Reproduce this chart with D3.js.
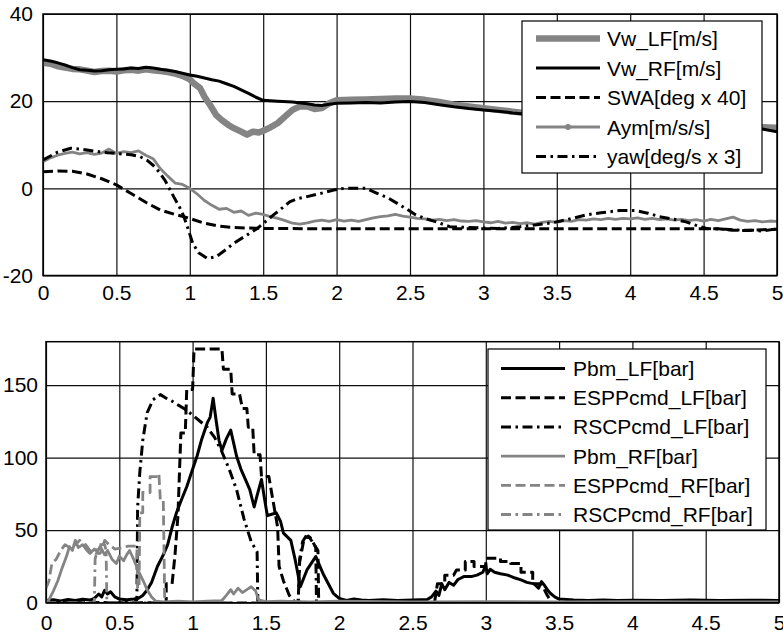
<!DOCTYPE html>
<html>
<head>
<meta charset="utf-8">
<script src="https://cdn.jsdelivr.net/npm/d3@7"></script>
<style>
  body { margin: 0; background: #fff; }
  svg { display: block; }
  .tick text { font-family: "Liberation Sans", Arial, Helvetica, sans-serif; font-size: 21px; fill: #000; }
  .legend text { font-family: "Liberation Sans", Arial, Helvetica, sans-serif; font-size: 21px; fill: #000; }
</style>
</head>
<body>
<script>
//x ticks shared by both panels
var xTicks = [0, 0.5, 1, 1.5, 2, 2.5, 3, 3.5, 4, 4.5, 5];
var topYTicks = [-20, 0, 20, 40];
var botYTicks = [0, 50, 100, 150];

//top panel series, [time s, value]
var vwLF = [[0,28.8],[0.05,28.6],[0.1,28.0],[0.15,27.7],[0.2,27.4],[0.25,27.3],[0.3,27.0],[0.35,26.7],[0.4,26.9],[0.45,27.0],[0.5,26.8],[0.55,27.1],[0.6,27.2],[0.65,27.0],[0.7,27.3],[0.75,27.1],[0.8,26.9],[0.85,26.7],[0.9,26.3],[0.95,25.8],[1.0,25.0],[1.03,24.0],[1.07,23.0],[1.1,21.0],[1.14,19.0],[1.18,16.8],[1.22,15.6],[1.26,14.6],[1.3,13.8],[1.35,13.0],[1.39,12.3],[1.43,13.0],[1.47,12.8],[1.5,13.2],[1.55,14.0],[1.6,15.0],[1.65,16.5],[1.7,18.0],[1.75,18.8],[1.8,18.8],[1.85,18.2],[1.9,18.4],[1.95,19.5],[2.0,20.2],[2.1,20.3],[2.2,20.4],[2.3,20.5],[2.4,20.6],[2.5,20.6],[2.6,20.3],[2.7,19.8],[2.8,19.2],[2.9,18.8],[3.0,18.4],[3.1,18.0],[3.2,17.6],[3.3,17.2],[3.4,16.9],[3.5,16.7],[4.0,15.5],[4.5,14.6],[4.9,14.0],[5.0,13.9]];

var vwRF = [[0,29.5],[0.05,29.2],[0.1,28.8],[0.15,28.3],[0.2,27.7],[0.25,27.2],[0.3,27.1],[0.35,26.9],[0.4,27.0],[0.45,27.2],[0.5,27.3],[0.55,27.4],[0.6,27.6],[0.65,27.5],[0.7,27.8],[0.75,27.6],[0.8,27.3],[0.85,27.1],[0.9,26.8],[0.95,26.4],[1.0,26.0],[1.05,25.7],[1.1,25.3],[1.15,24.9],[1.2,24.6],[1.25,24.0],[1.3,23.4],[1.35,22.6],[1.4,21.8],[1.45,20.9],[1.5,20.2],[1.6,20.0],[1.7,19.8],[1.8,19.4],[1.85,19.1],[1.9,19.0],[1.95,19.3],[2.0,19.5],[2.1,19.6],[2.2,19.7],[2.3,19.6],[2.4,19.8],[2.5,19.9],[2.6,19.7],[2.7,19.2],[2.8,18.7],[2.9,18.3],[3.0,18.0],[3.1,17.7],[3.2,17.3],[3.3,17.0],[3.4,16.8],[3.5,16.6],[3.75,15.9],[4.0,15.4],[4.25,14.9],[4.5,14.5],[4.75,14.0],[4.9,13.6],[5.0,13.0]];

var swa = [[0,3.8],[0.1,4.0],[0.2,3.9],[0.3,3.3],[0.4,2.2],[0.5,0.8],[0.6,-1.2],[0.7,-3.2],[0.8,-5.0],[0.9,-6.0],[1.0,-6.9],[1.1,-8.0],[1.2,-8.7],[1.3,-9.0],[1.5,-9.2],[2.0,-9.3],[3.0,-9.3],[4.0,-9.3],[4.6,-9.3],[4.7,-9.6],[4.8,-9.7],[4.9,-9.5],[5.0,-9.4]];

var aym = [[0,6.1],[0.05,7.0],[0.1,7.6],[0.15,8.0],[0.2,8.3],[0.25,7.9],[0.3,8.2],[0.35,7.8],[0.4,8.1],[0.45,9.0],[0.5,8.0],[0.55,8.4],[0.6,8.2],[0.65,8.6],[0.7,7.6],[0.75,6.8],[0.8,4.5],[0.85,2.8],[0.9,1.2],[0.95,0.9],[1.0,0.0],[1.05,-1.3],[1.1,-2.8],[1.15,-3.9],[1.2,-4.8],[1.25,-4.6],[1.3,-5.5],[1.35,-5.2],[1.4,-6.2],[1.45,-5.7],[1.5,-6.0],[1.55,-6.5],[1.6,-6.9],[1.65,-7.4],[1.7,-8.0],[1.75,-8.2],[1.8,-7.9],[1.85,-7.5],[1.9,-7.3],[1.95,-7.6],[2.0,-7.2],[2.05,-7.5],[2.1,-7.3],[2.15,-7.6],[2.2,-7.2],[2.25,-6.8],[2.3,-6.5],[2.35,-6.3],[2.4,-6.0],[2.45,-6.4],[2.5,-6.6],[2.55,-6.9],[2.6,-7.0],[2.65,-7.3],[2.7,-7.1],[2.75,-7.4],[2.8,-7.2],[2.85,-7.5],[2.9,-7.6],[2.95,-7.4],[3.0,-7.7],[3.05,-7.9],[3.1,-7.6],[3.15,-8.0],[3.2,-7.8],[3.25,-8.1],[3.3,-7.9],[3.35,-8.2],[3.4,-7.8],[3.45,-7.6],[3.5,-7.8],[3.55,-7.4],[3.6,-7.6],[3.65,-7.2],[3.7,-7.3],[3.75,-7.0],[3.8,-7.2],[3.85,-6.9],[3.9,-7.1],[3.95,-6.9],[4.0,-7.0],[4.05,-6.8],[4.1,-7.1],[4.15,-6.9],[4.2,-7.2],[4.25,-7.0],[4.3,-7.3],[4.35,-7.1],[4.4,-7.4],[4.45,-7.2],[4.5,-7.5],[4.55,-7.1],[4.6,-7.4],[4.65,-7.0],[4.7,-6.6],[4.75,-7.3],[4.8,-7.6],[4.85,-7.4],[4.9,-7.7],[4.95,-7.5],[5.0,-7.6]];

var yaw = [[0,6.5],[0.1,8.3],[0.19,9.2],[0.3,8.8],[0.4,8.3],[0.5,8.0],[0.6,7.7],[0.66,7.3],[0.71,6.4],[0.75,5.3],[0.79,3.8],[0.83,1.9],[0.86,0.0],[0.89,-1.9],[0.93,-4.3],[0.96,-6.5],[0.99,-9.5],[1.02,-12.6],[1.06,-14.8],[1.12,-16.1],[1.18,-15.7],[1.24,-14.2],[1.3,-12.6],[1.38,-10.9],[1.46,-9.2],[1.52,-7.5],[1.57,-6.1],[1.63,-4.5],[1.68,-3.1],[1.73,-2.4],[1.8,-1.9],[1.9,-1.1],[1.98,-0.4],[2.05,0],[2.2,0],[2.28,-1.2],[2.35,-2.2],[2.41,-3.4],[2.48,-4.8],[2.54,-6.1],[2.61,-7.0],[2.68,-7.7],[2.77,-8.8],[2.9,-9.0],[3.0,-9.1],[3.1,-9.2],[3.25,-8.8],[3.35,-8.4],[3.47,-7.9],[3.58,-7.1],[3.7,-6.1],[3.8,-5.6],[3.93,-5.1],[4.04,-5.1],[4.12,-5.7],[4.2,-6.5],[4.3,-7.1],[4.38,-7.7],[4.45,-8.5],[4.52,-9.2],[4.65,-9.4],[4.75,-9.6],[4.83,-9.6],[4.9,-9.8],[5.0,-9.3]];

//bottom panel series, [time s, pressure bar]
var pbmLF = [[0,1.5],[0.05,2],[0.1,1.2],[0.15,2.2],[0.2,1.5],[0.25,2.4],[0.3,1.8],[0.33,3],[0.36,6],[0.38,4],[0.4,8.5],[0.42,6],[0.44,7.5],[0.47,4],[0.5,2.5],[0.55,2],[0.6,2.5],[0.63,3],[0.66,5],[0.69,8.8],[0.72,14],[0.76,25],[0.8,33],[0.83,40],[0.86,52],[0.89,62],[0.92,70],[0.96,80],[1.0,92],[1.03,101],[1.06,112],[1.1,124],[1.12,128],[1.14,141],[1.16,126],[1.18,112],[1.2,105],[1.23,113],[1.26,119],[1.28,110],[1.3,101],[1.33,92],[1.36,85],[1.39,78],[1.42,66],[1.44,74],[1.47,85],[1.49,72],[1.51,60],[1.54,61],[1.57,62],[1.6,56],[1.62,48],[1.67,43],[1.7,29.5],[1.735,11],[1.78,22.6],[1.84,31.8],[1.89,20],[1.96,6.5],[2.0,3],[2.05,1.5],[2.1,2.5],[2.15,1.8],[2.2,1.5],[2.3,2],[2.4,1.5],[2.5,1.8],[2.6,2.2],[2.63,4],[2.66,8],[2.68,5],[2.7,13],[2.72,9],[2.75,14],[2.78,12],[2.81,16],[2.85,18],[2.9,18],[2.94,19],[2.98,21],[3.0,26],[3.01,20],[3.03,23],[3.06,21],[3.1,20],[3.15,19],[3.2,17],[3.24,15.7],[3.28,14],[3.33,13],[3.36,10],[3.38,14.5],[3.4,12],[3.42,9],[3.44,6.5],[3.47,4],[3.5,2.5],[3.6,1.8],[3.7,1.5],[3.8,1.8],[3.9,1.5],[4.0,1.7],[4.2,1.5],[4.4,1.8],[4.6,1.5],[4.8,1.7],[5.0,1.6]];

var esppLF = [[0,0],[0.82,0],[0.82,13],[0.86,13],[0.88,33],[0.9,60],[0.92,117],[0.95,117],[0.96,147],[1.0,147],[1.01,175],[1.2,175],[1.21,161],[1.26,161],[1.27,144],[1.32,144],[1.34,134],[1.37,134],[1.38,121],[1.41,121],[1.42,102],[1.46,102],[1.47,87],[1.52,87],[1.58,52],[1.59,25],[1.62,15],[1.66,5],[1.7,0],[1.72,0],[1.73,28],[1.76,44],[1.79,46],[1.83,40],[1.855,36],[1.86,0],[2.65,0],[2.67,13],[2.72,13],[2.72,19],[2.78,19],[2.8,22.6],[2.86,22.6],[2.86,28.4],[2.92,28.4],[2.92,25],[3.0,25],[3.0,30.7],[3.1,30.7],[3.1,28.4],[3.17,28.4],[3.17,27],[3.24,27],[3.24,21],[3.32,21],[3.32,13],[3.38,13],[3.42,5],[3.45,0],[5,0]];

var rscpLF = [[0,0],[0.6,0],[0.62,2],[0.625,66],[0.64,90],[0.66,112],[0.69,131],[0.73,140],[0.78,143.5],[0.82,141],[0.86,139],[0.89,137],[0.94,134],[0.98,131],[1.04,126],[1.1,121],[1.15,114],[1.2,104],[1.25,92],[1.3,78],[1.35,58],[1.4,42],[1.44,35],[1.445,0],[1.72,0],[1.73,30],[1.75,42],[1.78,47],[1.81,44],[1.84,38],[1.845,0],[5,0]];

var pbmRF = [[0,0],[0.02,2],[0.05,8],[0.08,15],[0.11,24],[0.14,32],[0.16,38.7],[0.18,36],[0.2,43],[0.22,38],[0.25,40],[0.28,36],[0.3,34],[0.33,37],[0.35,35],[0.37,39],[0.4,33],[0.42,36],[0.45,30],[0.48,27],[0.5,32],[0.53,29],[0.55,33],[0.57,36],[0.6,29.5],[0.63,22],[0.66,15.7],[0.69,9],[0.72,4],[0.75,1],[0.8,0.5],[0.9,1],[1.0,0.5],[1.1,1],[1.2,1.5],[1.23,5],[1.26,9],[1.28,6],[1.31,10],[1.34,7],[1.37,9],[1.4,11],[1.43,8],[1.45,2],[1.5,0.8],[1.6,1],[1.8,0.6],[2.0,1],[2.5,0.6],[3.0,0.8],[3.5,0.5],[4.0,0.7],[4.5,0.5],[5.0,0.6]];

var esppRF = [[0,10],[0.02,15],[0.04,27],[0.07,30],[0.1,36],[0.13,40],[0.16,38],[0.2,40],[0.23,43],[0.27,40],[0.3,36],[0.34,34],[0.37,34],[0.4,43],[0.43,40],[0.47,37],[0.52,38],[0.56,39],[0.6,39],[0.62,39],[0.625,10],[0.635,10],[0.64,62],[0.66,62],[0.66,76],[0.71,76],[0.71,87],[0.76,87],[0.77,89],[0.78,71],[0.8,71],[0.81,0],[5,0]];

var rscpRF = [[0,0],[0.33,0],[0.335,30],[0.36,40],[0.4,40],[0.41,36],[0.415,0],[5,0]];

//legend labels
var topLabels = ['Vw_LF[m/s]', 'Vw_RF[m/s]', 'SWA[deg x 40]', 'Aym[m/s/s]', 'yaw[deg/s x 3]'];
var botLabels = ['Pbm_LF[bar]', 'ESPPcmd_LF[bar]', 'RSCPcmd_LF[bar]', 'Pbm_RF[bar]', 'ESPPcmd_RF[bar]', 'RSCPcmd_RF[bar]'];

window.onload = drawChart();

function drawChart(){
    var width = 783,
        height = 634;
    var gray = '#848484',
        dash = '10,4.5',
        dashDot = '10,4.5,2.5,4.5';

    var svg = d3.select('body')
        .append('svg')
        .attr('width', width)
        .attr('height', height);

    //top panel
    var topPanel = {
        left: 43, right: 777, top: 14, bottom: 275.5,
        yDomain: [-20, 40], yTicks: topYTicks, xPad: 9.5, yPad: 10,
        series: [
            {data: vwLF, color: gray, width: 6.5, dash: null},
            {data: vwRF, color: '#000', width: 3, dash: null},
            {data: swa, color: '#000', width: 3, dash: dash},
            {data: aym, color: gray, width: 2.8, dash: null, marker: true},
            {data: yaw, color: '#000', width: 3, dash: dashDot}
        ],
        labels: topLabels,
        legend: {x: 522, y: 21, w: 240, h: 152, first: 38.5, step: 29.5, lineX0: 536, lineX1: 600, textX: 607}
    };

    //bottom panel
    var botPanel = {
        left: 46, right: 779, top: 341.7, bottom: 602.7,
        yDomain: [0, 180], yTicks: botYTicks, xPad: 12.4, yPad: 8,
        series: [
            {data: pbmLF, color: '#000', width: 3, dash: null},
            {data: esppLF, color: '#000', width: 3, dash: dash},
            {data: rscpLF, color: '#000', width: 3, dash: dashDot},
            {data: pbmRF, color: gray, width: 2.8, dash: null},
            {data: esppRF, color: gray, width: 2.8, dash: dash},
            {data: rscpRF, color: gray, width: 2.8, dash: dashDot}
        ],
        labels: botLabels,
        legend: {x: 488, y: 349, w: 278, h: 181, first: 368.5, step: 29.2, lineX0: 501, lineX1: 565, textX: 573}
    };

    drawPanel(topPanel, 'clipTop');
    drawPanel(botPanel, 'clipBot');

    function drawPanel(p, clipId){
        var x = d3.scaleLinear().domain([0, 5]).range([p.left, p.right]);
        var y = d3.scaleLinear().domain(p.yDomain).range([p.bottom, p.top]);
        var h = p.bottom - p.top,
            w = p.right - p.left;
        //plain hyphen for negatives, like the original
        var fmt = function(d){ return String(d); };

        //x axis with grid lines
        var xAxis = svg.append('g')
            .attr('transform', 'translate(0,' + p.bottom + ')')
            .call(d3.axisBottom(x).tickValues(xTicks).tickFormat(fmt).tickSize(-h).tickPadding(p.xPad));
        xAxis.select('.domain').remove();
        xAxis.selectAll('.tick line').attr('stroke', '#111').attr('stroke-width', 1.2);

        //y axis with grid lines
        var yAxis = svg.append('g')
            .attr('transform', 'translate(' + p.left + ',0)')
            .call(d3.axisLeft(y).tickValues(p.yTicks).tickFormat(fmt).tickSize(-w).tickPadding(p.yPad));
        yAxis.select('.domain').remove();
        yAxis.selectAll('.tick line').attr('stroke', '#111').attr('stroke-width', 1.2);

        svg.append('clipPath').attr('id', clipId)
            .append('rect').attr('x', p.left).attr('y', p.top).attr('width', w).attr('height', h);

        var line = d3.line()
            .x(function(d){ return x(d[0]); })
            .y(function(d){ return y(d[1]); });

        var g = svg.append('g').attr('clip-path', 'url(#' + clipId + ')');
        g.selectAll('.series')
            .data(p.series)
            .enter()
            .append('path')
            .attr('class', 'series')
            .attr('d', function(s){ return line(s.data); })
            .attr('fill', 'none')
            .attr('stroke', function(s){ return s.color; })
            .attr('stroke-width', function(s){ return s.width; })
            .attr('stroke-linejoin', 'round')
            .attr('stroke-dasharray', function(s){ return s.dash; });

        //frame
        svg.append('rect')
            .attr('x', p.left).attr('y', p.top)
            .attr('width', w).attr('height', h)
            .attr('fill', 'none')
            .attr('stroke', '#000')
            .attr('stroke-width', 1.5);

        //legend box
        var L = p.legend;
        var leg = svg.append('g').attr('class', 'legend');
        leg.append('rect')
            .attr('x', L.x).attr('y', L.y)
            .attr('width', L.w).attr('height', L.h)
            .attr('fill', '#fff')
            .attr('stroke', '#000')
            .attr('stroke-width', 1.2);

        var rows = leg.selectAll('.row')
            .data(p.series)
            .enter()
            .append('g')
            .attr('class', 'row')
            .attr('transform', function(s, i){ return 'translate(0,' + (L.first + i * L.step) + ')'; });

        rows.append('line')
            .attr('x1', L.lineX0).attr('x2', L.lineX1)
            .attr('stroke', function(s){ return s.color; })
            .attr('stroke-width', function(s){ return s.width; })
            .attr('stroke-dasharray', function(s){ return s.dash; });

        rows.filter(function(s){ return s.marker; })
            .append('circle')
            .attr('cx', (L.lineX0 + L.lineX1) / 2)
            .attr('r', 3)
            .attr('fill', function(s){ return s.color; });

        rows.append('text')
            .attr('x', L.textX)
            .attr('dy', '0.36em')
            .text(function(s, i){ return p.labels[i]; });
    }
};
</script>
</body>
</html>
